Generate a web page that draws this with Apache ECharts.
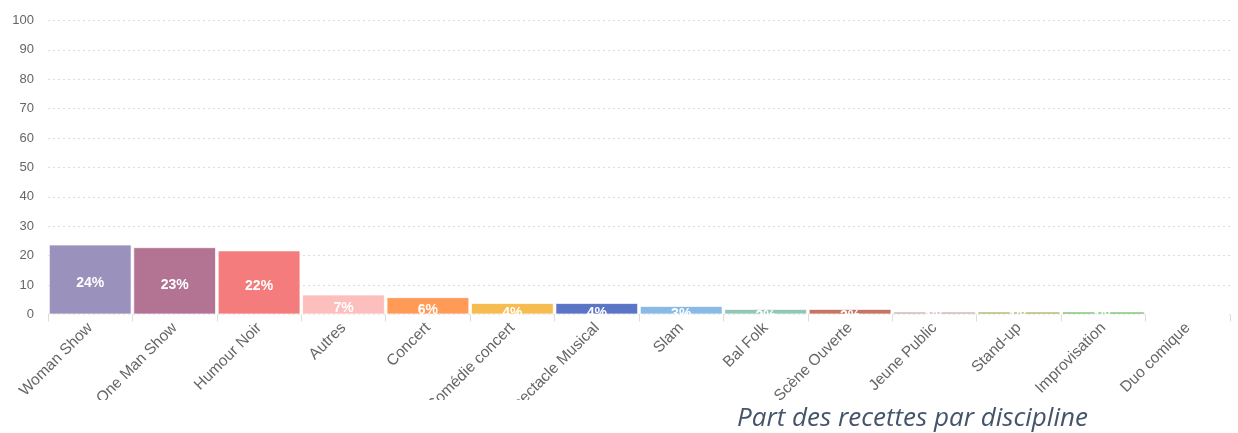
<!DOCTYPE html>
<html>
<head>
<meta charset="utf-8">
<script src="https://cdn.jsdelivr.net/npm/echarts@6/dist/echarts.min.js"></script>
<style>
html,body{margin:0;padding:0;background:#fff;}
#chart{width:1238px;height:433px;}
</style>
</head>
<body>
<div id="chart"></div>
<script>
const categories = ["Woman Show","One Man Show","Humour Noir","Autres","Concert","Comédie concert","Spectacle Musical","Slam","Bal Folk","Scène Ouverte","Jeune Public","Stand-up","Improvisation","Duo comique"];
const values = [23.8, 22.9, 21.8, 6.8, 5.9, 3.9, 3.9, 2.9, 1.9, 1.9, 1.0, 1.0, 1.0, 0];
const barColors = ["#9A91BC","#B37494","#F47C7C","#FDBEBE","#FF9B57","#F6BC50","#5C74C6","#89BAE6","#93C7B5","#C67464","#C7ADA9","#ABAB63","#6BBA62","#CCCCCC"];
const yTicks = [0,10,20,30,40,50,60,70,80,90,100];
const titleText = "Part des recettes par discipline";

const chart = echarts.init(document.getElementById('chart'), null, {renderer:'canvas'});
chart.setOption({
  animation:false,
  grid:{left:48, right:8, top:20.5, bottom:118.5, containLabel:false},
  xAxis:{
    type:'category',
    data:categories,
    axisLine:{show:false},
    axisTick:{show:true, length:7, lineStyle:{color:'#dddddd'}},
    axisLabel:{rotate:45, color:'#666', fontSize:15.5, fontFamily:'Liberation Sans, Arial, sans-serif', margin:11, interval:0}
  },
  yAxis:{
    type:'value',
    min:yTicks[0], max:yTicks[yTicks.length-1], interval:10,
    axisLine:{show:false},
    axisTick:{show:false},
    axisLabel:{color:'#666', fontSize:13, fontFamily:'Liberation Sans, Arial, sans-serif', margin:14},
    splitLine:{show:true, lineStyle:{color:'#dddddd', type:[2,3]}}
  },
  series:[{
    type:'bar',
    data:values.map((v,i)=>({value:v, itemStyle:{color:barColors[i]}})),
    barCategoryGap:'2%',
    itemStyle:{borderColor:'rgba(255,255,255,0.7)', borderWidth:1},
    label:{
      show:true, position:'inside', offset:[0,4],
      color:'#fff', fontWeight:'bold', fontSize:14,
      fontFamily:'Liberation Sans, Arial, sans-serif',
      formatter:p=>Math.round(p.value)+'%'
    }
  }],
  graphic:[
    {type:'rect', left:0, top:400, shape:{width:1238, height:33}, style:{fill:'#fff'}, z:100},
    {type:'text', left:737, top:406, z:101, style:{text:titleText, fill:'#44546A', font:'italic 26px "Open Sans", sans-serif'}}
  ]
});
</script>
</body>
</html>
